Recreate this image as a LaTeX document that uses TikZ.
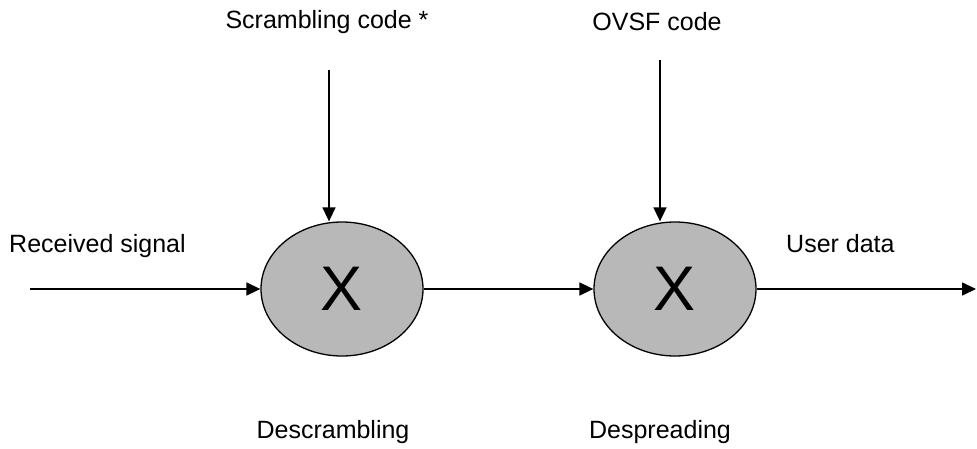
\documentclass[tikz,border=0pt]{standalone}
\usepackage{fontspec}
\setmainfont{Liberation Sans}
\usetikzlibrary{shapes.geometric,arrows.meta}

\tikzset{
  mixer/.style={ellipse,draw,line width=1.3pt,fill=black!28,
    minimum width=162pt,minimum height=134pt,inner sep=0pt,
    font=\fontsize{63}{65}\selectfont},
  label/.style={font=\fontsize{25}{29}\selectfont,inner sep=0pt},
  sig/.style={line width=1.6pt,-{Triangle[length=14pt,width=13pt]}}
}

\begin{document}
\begin{tikzpicture}[x=1pt,y=-1pt]
  \useasboundingbox (0,0) rectangle (977,448);
  % the two multipliers
  \node[mixer] (mul1) at (342,289) {X};
  \node[mixer] (mul2) at (675,289) {X};
  % code inputs from above
  \coordinate (sc) at (329,70);
  \coordinate (ovsf) at (660,60);
  \node[label] (sclab) at (327,22) {Scrambling code *};
  \node[label] (ovsflab) at (657,22) {OVSF code};
  \draw[sig] (sc) -- (sc |- mul1.north);
  \draw[sig] (ovsf) -- (ovsf |- mul2.north);
  % signal path
  \coordinate (in) at (30,289);
  \coordinate (out) at (976,289);
  \draw[sig] (in) -- (mul1.west);
  \draw[sig] (mul1.east) -- (mul2.west);
  \draw[sig] (mul2.east) -- (out);
  \node[label,anchor=base west] (rxlab) at (9,252) {Received signal};
  \node[label,anchor=base west] (userlab) at (786,252) {User data};
  % stage names below
  \node[label] (dscr) at (333,432) {Descrambling};
  \node[label] (dspr) at (660,432) {Despreading};
\end{tikzpicture}
\end{document}
